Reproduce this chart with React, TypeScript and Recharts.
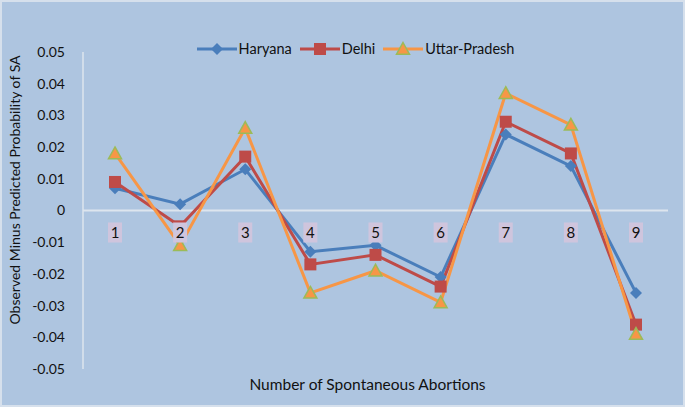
import { LineChart, Line, XAxis, YAxis, ReferenceLine } from 'recharts'

const categories = ['1', '2', '3', '4', '5', '6', '7', '8', '9']
const haryana = [0.007, 0.002, 0.013, -0.013, -0.011, -0.021, 0.024, 0.014, -0.026]
const delhi = [0.009, -0.005, 0.017, -0.017, -0.014, -0.024, 0.028, 0.018, -0.036]
const uttarPradesh = [0.018, -0.011, 0.026, -0.026, -0.019, -0.029, 0.037, 0.027, -0.039]
const yTicks = [-0.05, -0.04, -0.03, -0.02, -0.01, 0, 0.01, 0.02, 0.03, 0.04, 0.05]

const W = 685
const H = 407
const X_AXIS_H = 38
const Y_AXIS_W = 83
const M = { top: 52, right: 17, bottom: 0, left: 0 }
const PLOT_H = H - M.top - X_AXIS_H
const ZERO_Y = M.top + PLOT_H / 2

const BG = '#aec5e0'
const GRID = '#dde5ee'
const FONT = 'Lato, "Open Sans", sans-serif'
const C = { haryana: '#4a7ebb', delhi: '#be4b48', up: '#f79646', upEdge: '#9bbb59' }

const data = categories.map((c, i) => ({ cat: c, haryana: haryana[i], delhi: delhi[i], up: uttarPradesh[i] }))

const fmt = (v: number) => (v === 0 ? '0' : v.toFixed(2))

function Diamond({ cx, cy, s = 6 }: { cx?: number; cy?: number; s?: number }) {
  if (cx == null || cy == null) return null
  return <path d={`M${cx},${cy - s}L${cx + s},${cy}L${cx},${cy + s}L${cx - s},${cy}Z`} fill={C.haryana} />
}
function Square({ cx, cy, s = 6 }: { cx?: number; cy?: number; s?: number }) {
  if (cx == null || cy == null) return null
  return <rect x={cx - s} y={cy - s} width={s * 2} height={s * 2} fill={C.delhi} />
}
function Triangle({ cx, cy, s = 6.5 }: { cx?: number; cy?: number; s?: number }) {
  if (cx == null || cy == null) return null
  return (
    <path
      d={`M${cx},${cy - s}L${cx + s},${cy + s * 0.8}L${cx - s},${cy + s * 0.8}Z`}
      fill={C.up}
      stroke={C.upEdge}
      strokeWidth={1.5}
    />
  )
}

function CatTick(props: any) {
  const { x, payload } = props
  return (
    <g transform={`translate(${x},${ZERO_Y + 22})`}>
      <rect x={-7} y={-10} width={14} height={20} fill="#cfc5dd" />
      <text x={0} y={5} textAnchor="middle" fontSize={15} fill="#111" fontFamily={FONT}>
        {payload.value}
      </text>
    </g>
  )
}

function YTitle() {
  return (
    <text transform={`translate(20,190) rotate(-90)`} textAnchor="middle" fontSize={14} fill="#111" fontFamily={FONT}>
      Observed Minus Predicted Probability of SA
    </text>
  )
}

function LegendBox() {
  const items = [
    { name: 'Haryana', color: C.haryana, Mark: Diamond },
    { name: 'Delhi', color: C.delhi, Mark: Square },
    { name: 'Uttar-Pradesh', color: C.up, Mark: Triangle },
  ]
  return (
    <div
      style={{
        position: 'absolute', left: 0, top: 40, width: W, display: 'flex', justifyContent: 'center', gap: 8,
        fontFamily: FONT, fontSize: 14.5, color: '#111', paddingLeft: 26, boxSizing: 'border-box',
      }}
    >
      {items.map(({ name, color, Mark }) => (
        <div key={name} style={{ display: 'flex', alignItems: 'center' }}>
          <svg width={40} height={16}>
            <line x1={0} y1={8} x2={40} y2={8} stroke={color} strokeWidth={3} />
            <Mark cx={20} cy={8} />
          </svg>
          <span style={{ marginLeft: 2 }}>{name}</span>
        </div>
      ))}
    </div>
  )
}

export default function App() {
  return (
    <div style={{ position: 'absolute', left: 0, top: 0, width: W, height: H, background: BG, boxShadow: 'inset 0 0 0 2px #d6e0ec' }}>
      <LineChart width={W} height={H} data={data} margin={M}>
        <XAxis
          dataKey="cat"
          axisLine={false}
          tickLine={false}
          tick={<CatTick />}
          height={X_AXIS_H}
          padding={{ left: 32, right: 32 }}
          label={{ value: 'Number of Spontaneous Abortions', position: 'insideBottom', offset: 17, dx: -8, fill: '#111', fontSize: 15.5, fontFamily: FONT }}
        />
        <YAxis
          domain={[-0.05, 0.05]}
          ticks={yTicks}
          tickFormatter={fmt}
          width={Y_AXIS_W}
          axisLine={{ stroke: GRID, strokeWidth: 1.5 }}
          tickLine={false}
          tickMargin={12}
          tick={{ fill: '#111', fontSize: 14, fontFamily: FONT }}
          label={<YTitle />}
        />
        <ReferenceLine y={0} stroke={GRID} strokeWidth={2} />
        <Line dataKey="haryana" name="Haryana" stroke={C.haryana} strokeWidth={3} dot={<Diamond />} activeDot={false} isAnimationActive={false} />
        <Line dataKey="delhi" name="Delhi" stroke={C.delhi} strokeWidth={3} dot={<Square />} activeDot={false} isAnimationActive={false} />
        <Line dataKey="up" name="Uttar-Pradesh" stroke={C.up} strokeWidth={3} dot={<Triangle />} activeDot={false} isAnimationActive={false} />
      </LineChart>
      <LegendBox />
    </div>
  )
}
